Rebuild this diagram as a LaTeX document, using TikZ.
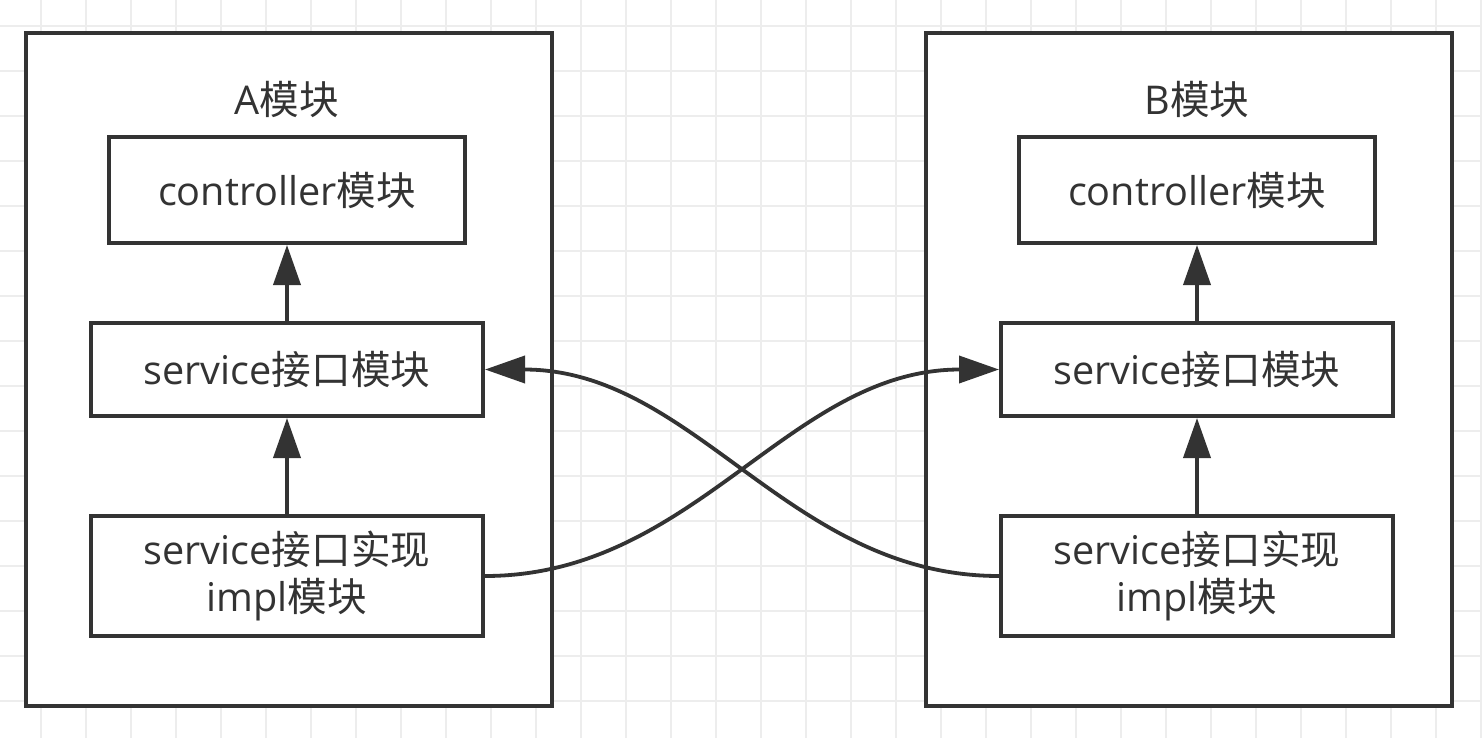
\documentclass[tikz,border=0pt]{standalone}
\usepackage{fontspec}
\setmainfont{Open Sans}
\newfontfamily\cjk{Noto Sans CJK SC}
\usetikzlibrary{arrows.meta}
\definecolor{ink}{HTML}{333333}
\definecolor{gridc}{HTML}{EDEDED}
\begin{document}
\begin{tikzpicture}[x=0.5pt,y=-0.5pt,
  gridline/.style={draw=gridc,line width=0.8pt},
  module/.style={draw=ink,line width=2pt,fill=white,minimum width=263pt,minimum height=336.5pt,inner sep=0pt},
  box/.style={draw=ink,line width=2pt,fill=white,align=center,text=ink,inner sep=0pt,
    font=\fontsize{19.8}{23.5}\selectfont},
  ctl/.style={box,minimum width=178pt,minimum height=53pt},
  svc/.style={box,minimum width=196pt,minimum height=46.5pt},
  impl/.style={box,minimum width=196pt,minimum height=60pt},
  title/.style={text=ink,font=\fontsize{19.8}{23.5}\selectfont,inner sep=0pt},
  conn/.style={draw=ink,line width=1.9pt,-{Triangle[length=20pt,width=13.5pt]}}]
\useasboundingbox (0,0) rectangle (1482,738);
\fill[white] (0,0) rectangle (1482,738);
\foreach \x in {41,86,...,1481} \draw[gridline] (\x,0) -- (\x,738);
\foreach \y in {26,71,...,737} \draw[gridline] (0,\y) -- (1482,\y);

% module A
\node[module] (A) at (289,369.5) {};
\node[title] (At) at (287,99) {A{\cjk 模块}};
\node[ctl] (Actl) at (287,190) {controller{\cjk 模块}};
\node[svc] (Asvc) at (287,369.5) {service{\cjk 接口模块}};
\node[impl] (Aimpl) at (287,576) {service{\cjk 接口实现}\\impl{\cjk 模块}};

% module B
\node[module] (B) at (1189,369.5) {};
\node[title] (Bt) at (1197,99) {B{\cjk 模块}};
\node[ctl] (Bctl) at (1197,190) {controller{\cjk 模块}};
\node[svc] (Bsvc) at (1197,369.5) {service{\cjk 接口模块}};
\node[impl] (Bimpl) at (1197,576) {service{\cjk 接口实现}\\impl{\cjk 模块}};

% connectors
\draw[conn] (Aimpl.north) -- (Asvc.south);
\draw[conn] (Asvc.north) -- (Actl.south);
\draw[conn] (Bimpl.north) -- (Bsvc.south);
\draw[conn] (Bsvc.north) -- (Bctl.south);
\draw[conn] (Aimpl.east) .. controls +(210,0) and +(-210,0) .. (Bsvc.west);
\draw[conn] (Bimpl.west) .. controls +(-210,0) and +(210,0) .. (Asvc.east);
\end{tikzpicture}
\end{document}
